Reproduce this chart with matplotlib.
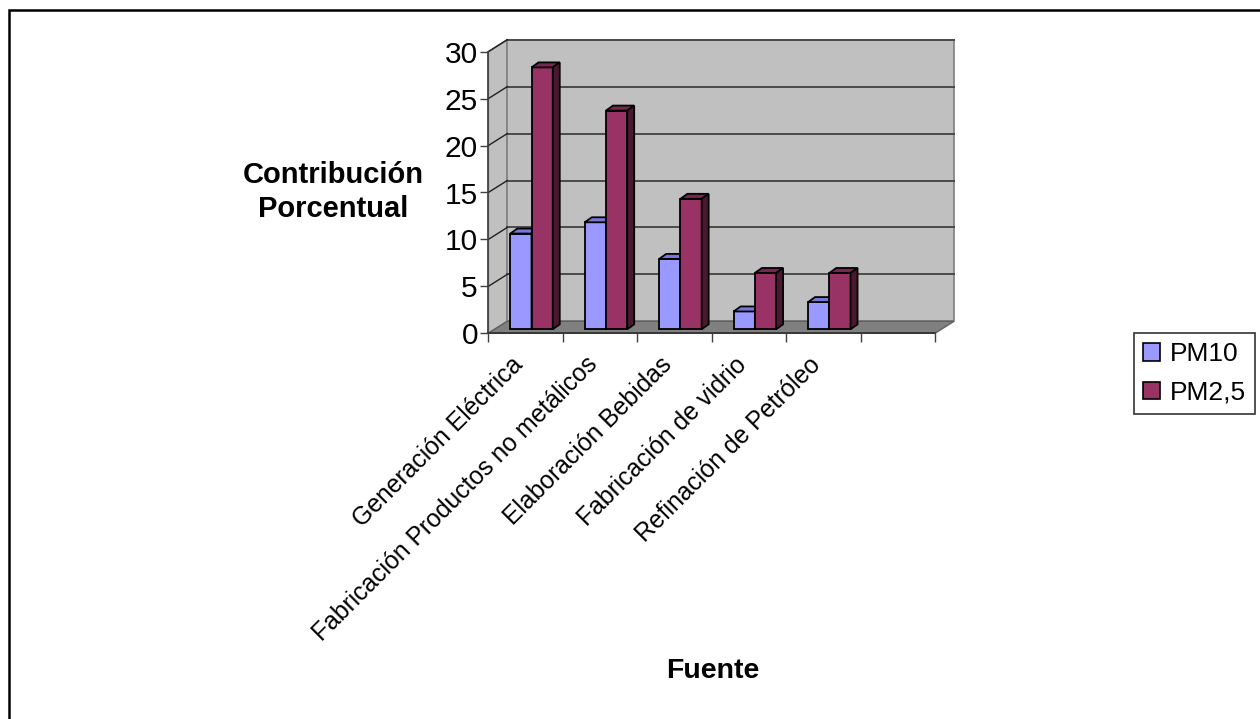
import matplotlib.pyplot as plt
from matplotlib.patches import Polygon, Rectangle, Patch
from matplotlib.transforms import ScaledTranslation

plt.rcParams['font.family'] = ['Liberation Sans', 'DejaVu Sans']

# Datos: contribución porcentual por fuente
fuentes = ["Generación Eléctrica", "Fabricación Productos no metálicos",
           "Elaboración Bebidas", "Fabricación de vidrio", "Refinación de Petróleo"]
pm10 = [10.2, 11.4, 7.5, 1.9, 2.9]
pm25 = [27.9, 23.3, 13.9, 6.0, 6.0]
series = ["PM10", "PM2,5"]
y_ticks = [0, 5, 10, 15, 20, 25, 30]
n_slots = 6

W, H = 1260, 719
fig = plt.figure(figsize=(W / 100, H / 100), dpi=100)


def fx(px):
    return px / W


def fy(py):
    return 1 - py / H


# eje frontal del gráfico "3D"
x_left, x_right, y_bot, y_top = 488.3, 935.0, 333.3, 51.7
ax = fig.add_axes([fx(x_left), fy(y_bot), fx(x_right) - fx(x_left), fy(y_top) - fy(y_bot)])
ax.set_xlim(0, n_slots)
ax.set_ylim(0, 30)
ax.patch.set_visible(False)

ux = n_slots / (x_right - x_left)
uy = 30 / (y_bot - y_top)


def off(px, py):
    return px * ux, py * uy


# paredes y piso
wx, wy = off(19, 12)
ymax = y_ticks[-1]
wall_kw = dict(facecolor='#C0C0C0', edgecolor='#808080', lw=1.2, clip_on=False)
ax.add_patch(Polygon([(0, 0), (wx, wy), (wx, ymax + wy), (0, ymax)], zorder=0.5, **wall_kw))
ax.add_patch(Polygon([(wx, wy), (n_slots + wx, wy), (n_slots + wx, ymax + wy), (wx, ymax + wy)],
                     zorder=0.5, **wall_kw))
ax.add_patch(Polygon([(0, 0), (n_slots, 0), (n_slots + wx, wy), (wx, wy)],
                     facecolor='#808080', edgecolor='#606060', lw=1.0, clip_on=False, zorder=0.6))
for t in y_ticks[1:]:
    ax.plot([wx, n_slots + wx], [t + wy, t + wy], color='#4a4a4a', lw=1.4, zorder=0.7, clip_on=False)
    ax.plot([0, wx], [t, t + wy], color='#202020', lw=1.0, zorder=0.7, clip_on=False)

# barras con caras superior y lateral
w = 0.285
fdx, fdy = off(6, 4)
ddx, ddy = off(7, 5)
colores = [('#9999FF', '#7777D6', '#55559A'), ('#993366', '#772850', '#4A1830')]


def barra(x0, h, cols, z):
    front, top, side = cols
    x1 = x0 + w
    ax.bar(x0 + fdx, h, width=w, bottom=fdy, align='edge', facecolor=front,
           edgecolor='black', lw=1.3, zorder=z, clip_on=False)
    ax.add_patch(Polygon([(x0 + fdx, h + fdy), (x1 + fdx, h + fdy),
                          (x1 + fdx + ddx, h + fdy + ddy), (x0 + fdx + ddx, h + fdy + ddy)],
                         facecolor=top, edgecolor='black', lw=1.3, zorder=z, clip_on=False))
    ax.add_patch(Polygon([(x1 + fdx, fdy), (x1 + fdx, h + fdy),
                          (x1 + fdx + ddx, h + fdy + ddy), (x1 + fdx + ddx, fdy + ddy)],
                         facecolor=side, edgecolor='black', lw=1.3, zorder=z, clip_on=False))


for i in range(len(fuentes)):
    c = i + 0.5
    barra(c - w, pm10[i], colores[0], 2)
    barra(c, pm25[i], colores[1], 3)

# ejes
for s in ['top', 'right']:
    ax.spines[s].set_visible(False)
ax.spines['left'].set_color('#404040')
ax.spines['bottom'].set_color('#303030')
ax.spines['left'].set_linewidth(1.2)
ax.spines['bottom'].set_linewidth(1.2)
ax.spines['left'].set_zorder(1)
ax.spines['bottom'].set_zorder(1)
ax.set_yticks(y_ticks)
ax.set_yticklabels([str(t) for t in y_ticks], fontsize=21.5)
ax.tick_params(axis='y', direction='out', length=6, width=1.0, color='#404040', pad=1.5)
ax.set_xticks(range(n_slots + 1))
ax.set_xticklabels([''] * (n_slots + 1))
ax.tick_params(axis='x', which='major', direction='out', length=6.5, width=1.0, color='#404040')

# etiquetas de categoría inclinadas
lbl_tr = ax.transData + ScaledTranslation(-15 / 100, -19 / 100, fig.dpi_scale_trans)
for i, f in enumerate(fuentes):
    ax.text(i + 0.5, 0, f, transform=lbl_tr, fontsize=17.8, rotation=45,
            ha='right', va='top', rotation_mode='anchor', clip_on=False)

fig.text(fx(333), fy(192), "Contribución\nPorcentual", fontsize=21, fontweight='bold',
         ha='center', va='center', linespacing=1.3)
fig.text(fx(713), fy(671), "Fuente", fontsize=20.5, fontweight='bold', ha='center', va='center')

# leyenda
handles = [Patch(facecolor=colores[k][0], edgecolor='black', lw=1.2) for k in range(2)]
leg = fig.legend(handles, series, loc='upper left', bbox_to_anchor=(fx(1134), fy(333)),
                 fontsize=19, frameon=True, fancybox=False, edgecolor='black',
                 handlelength=0.65, handleheight=0.65, handletextpad=0.35,
                 borderaxespad=0, borderpad=0.35, labelspacing=0.55)
leg.get_frame().set_linewidth(1.2)

# marco exterior
fig.add_artist(Rectangle((fx(9), -0.1), 1.2, fy(10) + 0.1, transform=fig.transFigure,
                         fill=False, edgecolor='black', lw=1.8))

fig.savefig('out.png', dpi=100)
